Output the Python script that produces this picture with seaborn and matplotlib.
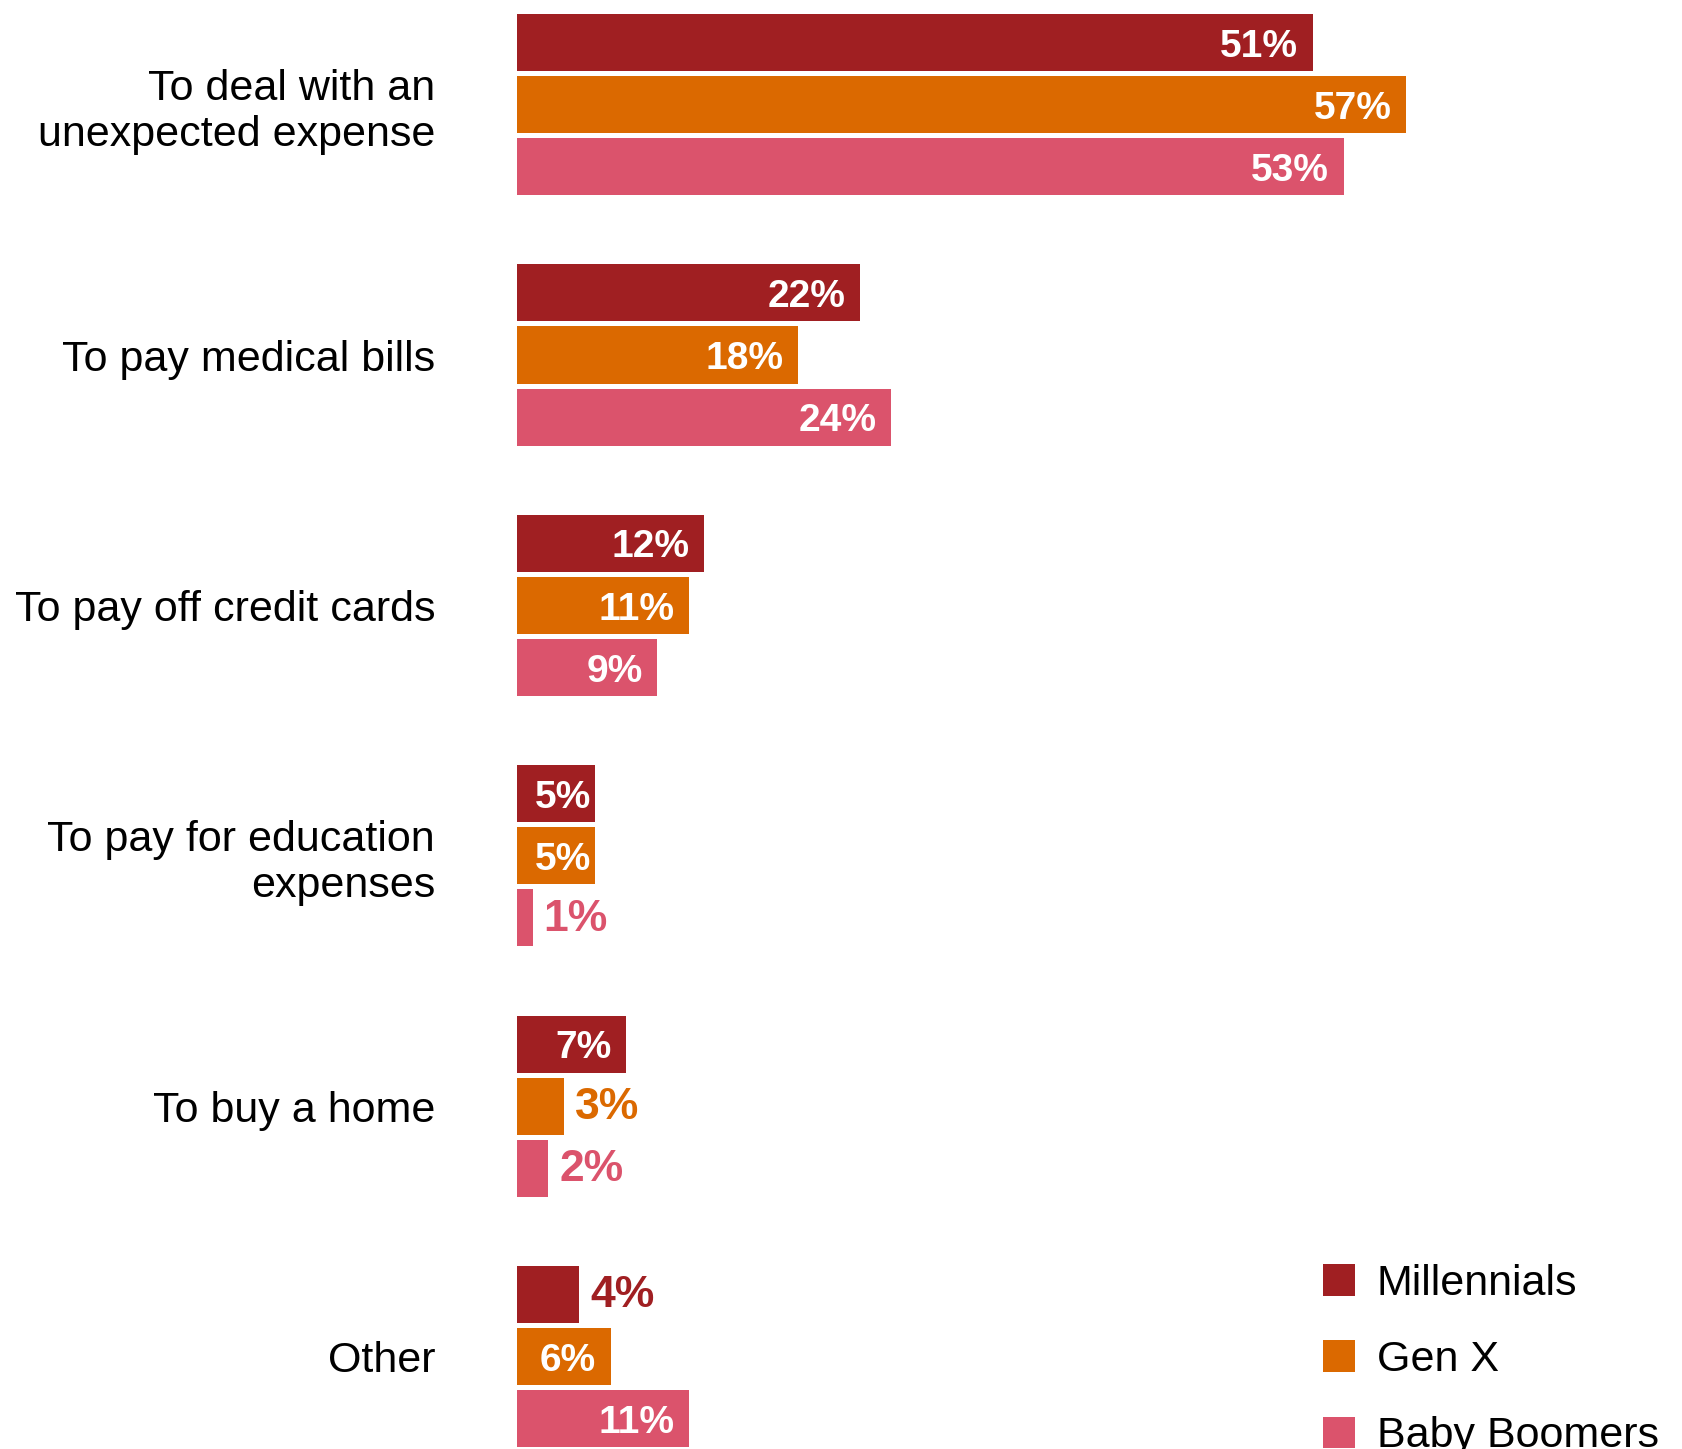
import numpy as np
import pandas as pd
import matplotlib
matplotlib.use('Agg')
import matplotlib.pyplot as plt
import seaborn as sns

# data (share of respondents, %)
reasons = ['To deal with an\nunexpected expense', 'To pay medical bills',
           'To pay off credit cards', 'To pay for education\nexpenses',
           'To buy a home', 'Other']
millennials = [51, 22, 12, 5, 7, 4]
gen_x = [57, 18, 11, 5, 3, 6]
boomers = [53, 24, 9, 1, 2, 11]

groups = ['Millennials', 'Gen X', 'Baby Boomers']
colors = ['#A01F22', '#DB6900', '#DB536C']

df = pd.DataFrame({'Reason': reasons * 3,
                   'Group': np.repeat(groups, len(reasons)),
                   'Share': millennials + gen_x + boomers})

sns.set_style('white')
plt.rcParams['font.family'] = ['Liberation Sans', 'DejaVu Sans']
plt.rcParams['text.color'] = 'black'
plt.rcParams['ytick.color'] = 'black'

W, H = 1682, 1449
fig = plt.figure(figsize=(W / 100, H / 100), dpi=100)
ax = fig.add_axes([517 / W, 0, 1 - 517 / W, 1])

sns.barplot(data=df, y='Reason', x='Share', hue='Group', order=reasons,
            hue_order=groups, palette=colors, saturation=1, orient='h',
            width=0.744, gap=0.08, linewidth=0, errorbar=None, ax=ax)

ax.set_xlim(0, (W - 517) / 15.6)
ax.set_ylim((H - 104.6) / 250.4, -104.6 / 250.4)

# value labels: white inside the bar, coloured outside for short bars
renderer = fig.canvas.get_renderer()
for cont, col in zip(ax.containers, colors):
    for rect in cont:
        v = rect.get_width()
        yc = rect.get_y() + rect.get_height() / 2
        if v >= 5:
            t = ax.annotate(f'{v:.0f}%', (v, yc), xytext=(-10.5, -3),
                            textcoords='offset points', ha='right', va='center',
                            color='white', fontsize=28, fontweight='bold')
            # keep a small margin from the bar start on narrow bars
            bb = t.get_window_extent(renderer)
            x0 = ax.transData.transform((0, yc))[0]
            if bb.x0 < x0 + 18:
                t.set_position((-10.5 + (x0 + 18 - bb.x0) * 72 / 100, -3))
        else:
            ax.annotate(f'{v:.0f}%', (v, yc), xytext=(8, -1),
                        textcoords='offset points', ha='left', va='center',
                        color=col, fontsize=32, fontweight='bold')

ax.set_xlabel('')
ax.set_ylabel('')
ax.set_xticks([])
ax.tick_params(axis='y', length=0, pad=59, labelsize=31, labelcolor='black')
for t in ax.get_yticklabels():
    t.set_linespacing(1.2)
sns.despine(ax=ax, left=True, bottom=True)

handles, labels = ax.get_legend_handles_labels()
ax.get_legend().remove()
fig.legend(handles, labels, loc='upper left', frameon=False,
           bbox_to_anchor=(1323 / W, 1 - 1264 / H), borderpad=0,
           borderaxespad=0, fontsize=31, handlelength=0.75,
           handleheight=0.75, handletextpad=0.5, labelspacing=0.84)

fig.savefig('out.png', dpi=100)
